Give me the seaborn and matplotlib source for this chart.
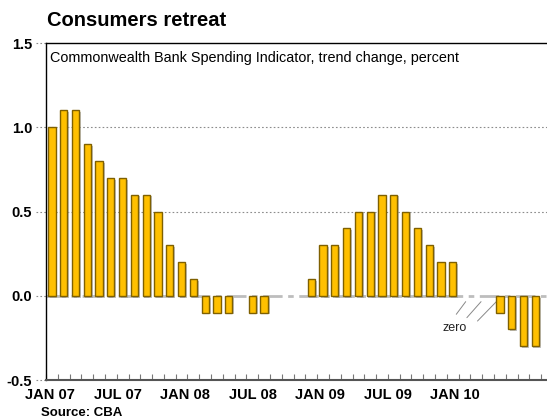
import numpy as np
import pandas as pd
import matplotlib
matplotlib.use("Agg")
import matplotlib.pyplot as plt
import matplotlib.patheffects as pe
import seaborn as sns

# ── Data ───────────────────────────────────────────────────────────────────
months = [p.strftime("%b %y").upper() for p in pd.period_range("2007-01", periods=42, freq="M")]
values = [1.0, 1.1, 1.1, 0.9, 0.8, 0.7, 0.7, 0.6, 0.6, 0.5, 0.3, 0.2,
          0.1, -0.1, -0.1, -0.1, 0.0, -0.1, -0.1, 0.0, 0.0, 0.0, 0.1, 0.3,
          0.3, 0.4, 0.5, 0.5, 0.6, 0.6, 0.5, 0.4, 0.3, 0.2, 0.2, 0.0,
          0.0, 0.0, -0.1, -0.2, -0.3, -0.3]
tick_labels = ["JAN 07", "JUL 07", "JAN 08", "JUL 08", "JAN 09", "JUL 09", "JAN 10"]
y_ticks = [-0.5, 0.0, 0.5, 1.0, 1.5]
zero_note = [35, 36, 37]   # months flagged as "zero"

df = pd.DataFrame({"month": months, "change": values})

sns.set_theme(style="white")
plt.rcParams["font.family"] = ["Liberation Sans", "DejaVu Sans"]
plt.rcParams["text.color"] = "black"
plt.rcParams["xtick.color"] = "black"
plt.rcParams["ytick.color"] = "black"

BAR = "#FFC000"
EDGE = "#7F6000"
GRID = "#8c8c8c"

fig = plt.figure(figsize=(5.47, 4.18), dpi=100)
ax = fig.add_axes([0.0841, 0.0909, 0.916, 0.8062])

sns.barplot(data=df, x="month", y="change", order=months, color=BAR,
            saturation=1, width=0.62, edgecolor=EDGE, linewidth=1.0, ax=ax, zorder=3)

shadow = [pe.SimplePatchShadow(offset=(1.3, -1.3), shadow_rgbFace="#9a9a9a", alpha=0.6), pe.Normal()]
for p in ax.patches:
    if abs(p.get_height()) < 1e-9:
        p.set_visible(False)
    else:
        p.set_path_effects(shadow)

ax.set_xlim(-0.5, 42.0)
ax.set_ylim(-0.5, 1.5)

# gridlines + dotted outside ticks
for y in [0.5, 1.0]:
    ax.axhline(y, xmin=-0.02, xmax=1, color=GRID, lw=0.8, ls=(0, (1.5, 2)), clip_on=False, zorder=1)
for y in [1.5, 0.0, -0.5]:
    ax.axhline(y, xmin=-0.02, xmax=0, color=GRID, lw=0.8, ls=(0, (1.5, 2)), clip_on=False, zorder=1)
ax.axhline(0, color="#bdbdbd", lw=2.0, ls=(0, (7, 2, 2, 2)), zorder=2)

ax.set_yticks(y_ticks)
ax.set_yticklabels([f"{v:.1f}" for v in y_ticks], fontsize=10.5, fontweight="bold")
ax.tick_params(axis="y", length=0, pad=10)

ax.set_xticks([-0.17 + 5.73 * k for k in range(len(tick_labels))])
ax.set_xticklabels(tick_labels, fontsize=10.5, fontweight="bold")
ax.set_xticks(np.arange(-0.5, 42, 1), minor=True)
ax.tick_params(axis="x", which="major", length=0, pad=6)
ax.tick_params(axis="x", which="minor", direction="in", length=4, width=0.8,
               color="#777777", bottom=True)
ax.set_xlabel("")
ax.set_ylabel("")

for s in ["left", "top"]:
    ax.spines[s].set_color("black")
    ax.spines[s].set_linewidth(1.0)
ax.spines["bottom"].set_color("#555555")
ax.spines["bottom"].set_linewidth(1.5)
ax.spines["right"].set_visible(False)

# "zero" note
ax.text(34.2, -0.19, "zero", fontsize=9, color="#222222", ha="center", va="center")
for k, i in enumerate(zero_note):
    ax.plot([i - 0.7 - 0.1 * k, i + 0.1 + 0.3 * k], [-0.11 - 0.02 * k, -0.035],
            color="#888888", lw=0.7, zorder=2)

ax.text(0.008, 0.955, "Commonwealth Bank Spending Indicator, trend change, percent",
        transform=ax.transAxes, fontsize=10.4, va="center", ha="left")

fig.text(47 / 547, 1 - 20 / 418, "Consumers retreat", fontsize=14.5, fontweight="bold",
         va="center", ha="left")
fig.text(41 / 547, 1 - 413 / 418, "Source: CBA", fontsize=9.5, fontweight="bold",
         va="center", ha="left")

fig.savefig("out.png", dpi=100)
